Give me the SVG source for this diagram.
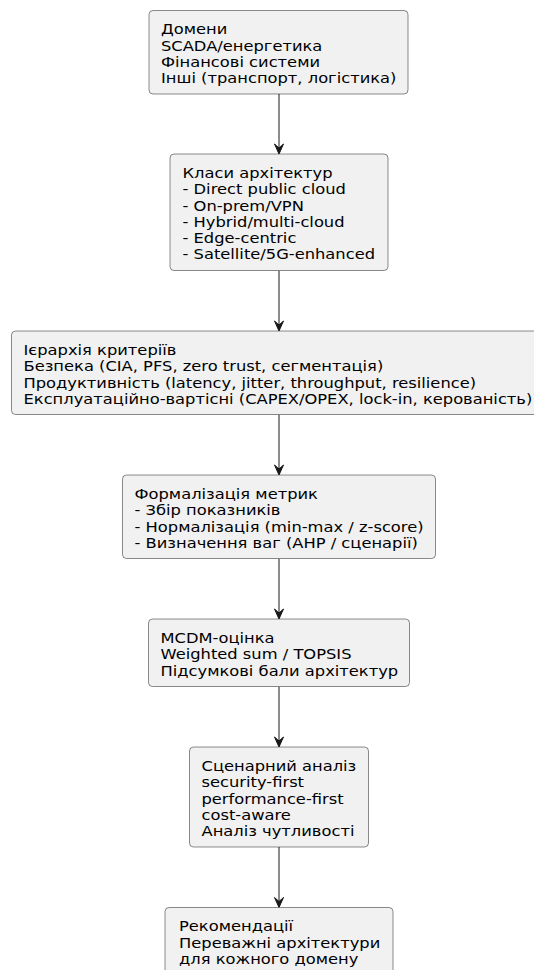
<svg xmlns="http://www.w3.org/2000/svg" width="534" height="970" viewBox="0 0 534 970">
<style>
rect.box{fill:#F1F1F1;stroke:#181818;stroke-width:0.5}
text{font-family:"DejaVu Sans","Noto Sans",sans-serif;font-size:14px;fill:#000}
line.edge{stroke:#181818;stroke-width:1}
polygon.head{fill:#181818;stroke:#181818;stroke-width:1}
</style>
<rect width="534" height="970" fill="#FFFFFF"/>
<g id="connectors">
<line class="edge" x1="279" y1="94" x2="279" y2="153"/><polygon class="head" points="274.5,144 279,154 283.5,144 279,148"/>
<line class="edge" x1="279" y1="270.5" x2="279" y2="330"/><polygon class="head" points="274.5,321 279,331 283.5,321 279,325"/>
<line class="edge" x1="279" y1="414.5" x2="279" y2="474"/><polygon class="head" points="274.5,465 279,475 283.5,465 279,469"/>
<line class="edge" x1="279" y1="558.5" x2="279" y2="618"/><polygon class="head" points="274.5,609 279,619 283.5,609 279,613"/>
<line class="edge" x1="279" y1="686.5" x2="279" y2="746"/><polygon class="head" points="274.5,737 279,747 283.5,737 279,741"/>
<line class="edge" x1="279" y1="847" x2="279" y2="906.5"/><polygon class="head" points="274.5,897.5 279,907.5 283.5,897.5 279,901.5"/>
</g>
<g id="domains">
<rect class="box" x="149" y="10.5" width="259" height="83.5" rx="4"/>
<g transform="translate(161,0) scale(1.165,1)">
<text x="0" y="34.5">Домени</text>
<text x="0" y="50.8">SCADA/енергетика</text>
<text x="0" y="67.1">Фінансові системи</text>
<text x="0" y="83.4">Інші (транспорт, логістика)</text>
</g>
</g>
<g id="classes">
<rect class="box" x="170" y="154" width="218" height="116.5" rx="4"/>
<g transform="translate(182.5,0) scale(1.165,1)">
<text x="0" y="178">Класи архітектур</text>
<text x="0" y="194.3">- Direct public cloud</text>
<text x="0" y="210.6">- On-prem/VPN</text>
<text x="0" y="226.9">- Hybrid/multi-cloud</text>
<text x="0" y="243.2">- Edge-centric</text>
<text x="0" y="259.5">- Satellite/5G-enhanced</text>
</g>
</g>
<g id="criteria">
<rect class="box" x="11.5" y="331" width="535" height="83.5" rx="4"/>
<g transform="translate(23.5,0) scale(1.165,1)">
<text x="0" y="355">Ієрархія критеріїв</text>
<text x="0" y="371.3">Безпека (CIA, PFS, zero trust, сегментація)</text>
<text x="0" y="387.6">Продуктивність (latency, jitter, throughput, resilience)</text>
<text x="0" y="403.9">Експлуатаційно-вартісні (CAPEX/OPEX, lock-in, керованість)</text>
</g>
</g>
<g id="metrics">
<rect class="box" x="122.5" y="475" width="313" height="83.5" rx="4"/>
<g transform="translate(134.5,0) scale(1.165,1)">
<text x="0" y="499">Формалізація метрик</text>
<text x="0" y="515.3">- Збір показників</text>
<text x="0" y="531.6">- Нормалізація (min-max / z-score)</text>
<text x="0" y="547.9">- Визначення ваг (AHP / сценарії)</text>
</g>
</g>
<g id="mcdm">
<rect class="box" x="148.5" y="619" width="261" height="67.5" rx="4"/>
<g transform="translate(160.5,0) scale(1.165,1)">
<text x="0" y="643">MCDM-оцінка</text>
<text x="0" y="659.3">Weighted sum / TOPSIS</text>
<text x="0" y="675.6">Підсумкові бали архітектур</text>
</g>
</g>
<g id="scenarios">
<rect class="box" x="189.5" y="747" width="179" height="100" rx="4"/>
<g transform="translate(201.5,0) scale(1.165,1)">
<text x="0" y="771">Сценарний аналіз</text>
<text x="0" y="787.3">security-first</text>
<text x="0" y="803.6">performance-first</text>
<text x="0" y="819.9">cost-aware</text>
<text x="0" y="836.2">Аналіз чутливості</text>
</g>
</g>
<g id="recommendations">
<rect class="box" x="165" y="907.5" width="228" height="84" rx="4"/>
<g transform="translate(179,0) scale(1.165,1)">
<text x="0" y="931.5">Рекомендації</text>
<text x="0" y="947.8">Переважні архітектури</text>
<text x="0" y="964.1">для кожного домену</text>
</g>
</g>
</svg>
